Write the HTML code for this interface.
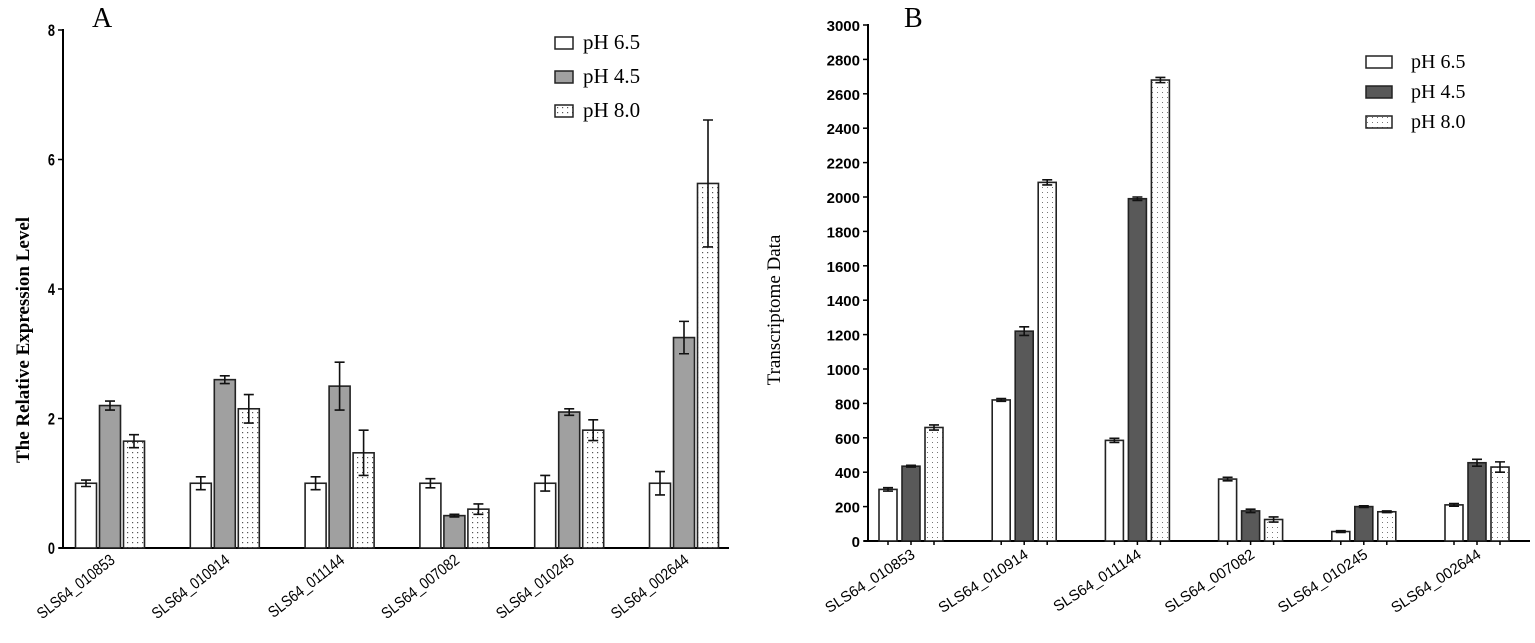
<!DOCTYPE html>
<html><head><meta charset="utf-8">
<style>
html,body{margin:0;padding:0;background:#fff;}
svg{display:block;}
.tick{font-family:"Liberation Sans",sans-serif;font-weight:bold;}
</style></head>
<body>
<svg id="chart" width="1535" height="643" viewBox="0 0 1535 643" xmlns="http://www.w3.org/2000/svg">
<defs>
<pattern id="dotsA" width="5" height="5" patternUnits="userSpaceOnUse"><rect width="5" height="5" fill="#fff"/><rect x="2" y="2" width="1.2" height="1.2" fill="#555"/></pattern>
<pattern id="dotsB" width="5" height="5" patternUnits="userSpaceOnUse"><rect width="5" height="5" fill="#fff"/><rect x="2" y="2" width="1" height="1" fill="#777"/></pattern>
</defs>
<g id="panelA"></g>
<g id="panelB"></g>
</svg>
<script>
const categories = ["SLS64_010853","SLS64_010914","SLS64_011144","SLS64_007082","SLS64_010245","SLS64_002644"];
const seriesNames = ["pH 6.5","pH 4.5","pH 8.0"];
const aPH65 = [1.0,1.0,1.0,1.0,1.0,1.0];
const aPH45 = [2.2,2.6,2.5,0.5,2.1,3.25];
const aPH80 = [1.65,2.15,1.47,0.6,1.82,5.63];
const aErr65 = [0.05,0.1,0.1,0.07,0.12,0.18];
const aErr45 = [0.07,0.06,0.37,0.02,0.05,0.25];
const aErr80 = [0.1,0.22,0.35,0.08,0.16,0.98];
const aTicks = [0,2,4,6,8];
const bPH65 = [300,820,585,360,55,210];
const bPH45 = [435,1220,1990,175,200,455];
const bPH80 = [660,2085,2680,125,170,430];
const bErr65 = [10,8,12,10,5,8];
const bErr45 = [5,25,10,10,5,20];
const bErr80 = [15,15,15,15,5,30];
const bTicks = [0,200,400,600,800,1000,1200,1400,1600,1800,2000,2200,2400,2600,2800,3000];

const NS="http://www.w3.org/2000/svg";
function mk(parent,tag,attrs,text){const e=document.createElementNS(NS,tag);for(const k in attrs)e.setAttribute(k,attrs[k]);if(text!==undefined)e.textContent=text;parent.appendChild(e);return e;}

function drawPanel(g,cfg){
  const y=v=>cfg.y0-(v/cfg.max)*(cfg.y0-cfg.yTop);
  const cx=i=>cfg.c0+i*cfg.step;
  let e=mk(g,'line',{x1:cfg.ax,y1:cfg.yTop-1,x2:cfg.ax,y2:cfg.y0,stroke:'#000','stroke-width':2});
  
  e=mk(g,'line',{x1:cfg.ax-4,y1:cfg.y0,x2:cfg.axEnd,y2:cfg.y0,stroke:'#000','stroke-width':2});
  
  cfg.ticks.forEach(t=>{
    mk(g,'line',{x1:cfg.ax-5,y1:y(t),x2:cfg.ax,y2:y(t),stroke:'#000','stroke-width':1.5});
    const tl=mk(g,'text',{x:cfg.ax-8,y:y(t)+6,'text-anchor':'end','font-size':cfg.tickFs,class:'tick',transform:cfg.tickSx?`translate(${cfg.ax-8},0) scale(${cfg.tickSx},1) translate(${-(cfg.ax-8)},0)`:''},String(t));
    
  });
  const fills=cfg.fills, vals=cfg.vals, errs=cfg.errs;
  categories.forEach((c,i)=>{
    for(let s=0;s<3;s++){
      const bx=cx(i)+(s-1)*(cfg.bw+cfg.gap)-cfg.bw/2;
      const v=vals[s][i];
      const r=mk(g,'rect',{x:bx,y:y(v),width:cfg.bw,height:cfg.y0-y(v),fill:fills[s],stroke:'#222','stroke-width':1.6});
      
      
      const m=bx+cfg.bw/2, hi=y(v+errs[s][i]), lo=y(v-errs[s][i]);
      const eb=mk(g,'path',{d:`M${m},${hi}V${lo}M${m-5},${hi}H${m+5}M${m-5},${lo}H${m+5}`,stroke:'#111','stroke-width':1.6,fill:'none'});
      
      if(cfg.smallTicks) mk(g,'line',{x1:m,y1:cfg.y0,x2:m,y2:cfg.y0+4,stroke:'#000','stroke-width':1.5});
    }
    const lx=cx(i)+cfg.lblDx, ly=cfg.y0+cfg.lblDy;
    const t=mk(g,'text',{x:lx,y:ly,'text-anchor':'end','font-family':cfg.lblFont,'font-size':cfg.lblFs,transform:`rotate(${cfg.rot} ${lx} ${ly})${cfg.lblSx?` translate(${lx},0) scale(${cfg.lblSx},1) translate(${-lx},0)`:''}`},c);
    
  });
  seriesNames.forEach((n,s)=>{
    const ly=cfg.legY+s*cfg.legStep;
    const r=mk(g,'rect',{x:cfg.legX,y:ly,width:cfg.legW,height:12,fill:fills[s],stroke:'#222','stroke-width':1.5});
    
    const t=mk(g,'text',{x:cfg.legTx,y:ly+12,'font-family':'"Liberation Serif",serif','font-size':cfg.legFs},n);
    
  });
}

drawPanel(document.getElementById('panelA'),{
  y0:548,yTop:30,max:8,ax:63,axEnd:729,c0:110,step:114.8,bw:21,gap:3,ticks:aTicks,tickFs:17,tickSx:0.75,
  fills:['#fff','#a0a0a0','url(#dotsA)'],vals:[aPH65,aPH45,aPH80],errs:[aErr65,aErr45,aErr80],
  lblDx:6,lblDy:14,lblFs:16,rot:-38,lblSx:0.85,lblFont:'"Liberation Sans Narrow","Liberation Sans",sans-serif',
  legX:555,legY:37,legStep:34,legW:18,legTx:583,legFs:21,smallTicks:false
});
drawPanel(document.getElementById('panelB'),{
  y0:541,yTop:25,max:3000,ax:868,axEnd:1530,c0:911,step:113.2,bw:18,gap:5,ticks:bTicks,tickFs:15,
  fills:['#fff','#595959','url(#dotsB)'],vals:[bPH65,bPH45,bPH80],errs:[bErr65,bErr45,bErr80],
  lblDx:5,lblDy:16,lblFs:15,rot:-33,lblFont:'"Liberation Sans",sans-serif',
  legX:1366,legY:56,legStep:30,legW:26,legTx:1411,legFs:20,smallTicks:true
});
const svg=document.getElementById('chart');
let t=mk(svg,'text',{x:92,y:27,'font-family':'"Liberation Serif",serif','font-size':28},'A');

t=mk(svg,'text',{x:904,y:27,'font-family':'"Liberation Serif",serif','font-size':28},'B');

t=mk(svg,'text',{x:29,y:340,'text-anchor':'middle','font-family':'"Liberation Serif",serif','font-weight':'bold','font-size':19,transform:'rotate(-90 29 340)'},'The Relative Expression Level');

t=mk(svg,'text',{x:780,y:310,'text-anchor':'middle','font-family':'"Liberation Serif",serif','font-size':19,transform:'rotate(-90 780 310)'},'Transcriptome Data');

</script>
</body></html>
